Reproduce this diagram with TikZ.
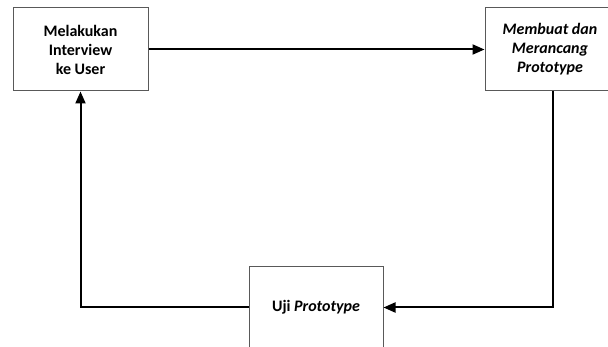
\documentclass[tikz,border=0pt]{standalone}
\usepackage{fontspec}
\setmainfont{Carlito}
\usetikzlibrary{arrows.meta, positioning}

\begin{document}
\begin{tikzpicture}[x=1pt, y=-1pt, >={Triangle[length=12pt, width=10pt]},
    every node/.style={font=\fontsize{16}{19}\selectfont\bfseries},
    stagebox/.style={rectangle, draw=black!65, line width=1pt, fill=white, align=center, inner sep=0pt},
    flow/.style={->, line width=2pt, black}]
    \useasboundingbox (0,0) rectangle (608,347);
    \clip (0,0) rectangle (608,347);

    % Stages of the cycle
    \node (interview) [stagebox, minimum width=135pt, minimum height=83pt] at (80.5,49.5)
        {Melakukan\\Interview\\ke User};
    \node (rancang) [stagebox, minimum width=130pt, minimum height=83pt, right=336pt of interview]
        {\itshape Membuat dan\\\itshape Merancang\\\itshape Prototype};
    \node (uji) [stagebox, minimum width=134pt, minimum height=81pt] at (316,307.5)
        {Uji \textit{Prototype}};

    % Arrows
    \draw [flow] (interview) -- (rancang);
    \draw [flow] ([xshift=3pt]rancang.south) |- (uji.east);
    \draw [flow] (uji.west) -| (interview.south);
\end{tikzpicture}
\end{document}
